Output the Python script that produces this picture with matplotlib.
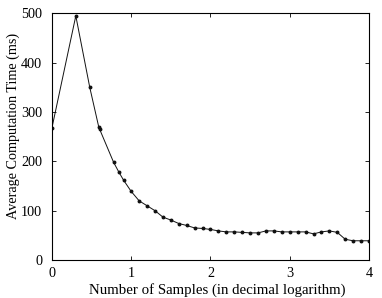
import numpy as np
import matplotlib
matplotlib.use("Agg")
import matplotlib.pyplot as plt

plt.rcParams['font.family'] = ['Liberation Serif', 'DejaVu Serif']

x_vals = [0.0, 0.301, 0.477, 0.59, 0.602, 0.778, 0.845, 0.903, 1.0,
          1.1, 1.2, 1.3, 1.4, 1.5, 1.6, 1.7, 1.8, 1.9, 2.0,
          2.1, 2.2, 2.3, 2.4, 2.5, 2.6, 2.7, 2.8, 2.9, 3.0,
          3.1, 3.2, 3.3, 3.4, 3.5, 3.6, 3.7, 3.8, 3.9, 4.0]
y_vals = [268, 495, 350, 270, 265, 198, 178, 162, 139,
          120, 110, 100, 87, 81, 74, 70, 65, 64, 62,
          59, 57, 57, 56, 55, 55, 59, 59, 57, 57,
          57, 57, 53, 57, 59, 56, 42, 39, 39, 39]
x_ticks = [0, 1, 2, 3, 4]
y_ticks = [0, 100, 200, 300, 400, 500]

fig = plt.figure(figsize=(3.82, 2.98), dpi=100)
ax = fig.add_axes([0.136, 0.1275, 0.83, 0.8275])
ax.plot(x_vals, y_vals, color='#111111', linewidth=0.7, marker='o', markersize=1.8)
ax.set_xlim(0, 4)
ax.set_ylim(0, 500)
ax.set_xticks(x_ticks)
ax.set_yticks(y_ticks)
ax.tick_params(direction='in', top=True, right=True, labelsize=10.2, length=3, width=0.6)
ax.tick_params(axis='x', pad=5)
ax.tick_params(axis='y', pad=7)
for s in ax.spines.values():
    s.set_linewidth(0.8)
ax.set_xlabel('Number of Samples (in decimal logarithm)', fontsize=10.7)
ax.xaxis.set_label_coords(0.52, -0.093)
ax.set_ylabel('Average Computation Time (ms)', fontsize=10.2)
ax.yaxis.set_label_coords(-0.10, 0.545)
fig.savefig('out.png', dpi=100)
